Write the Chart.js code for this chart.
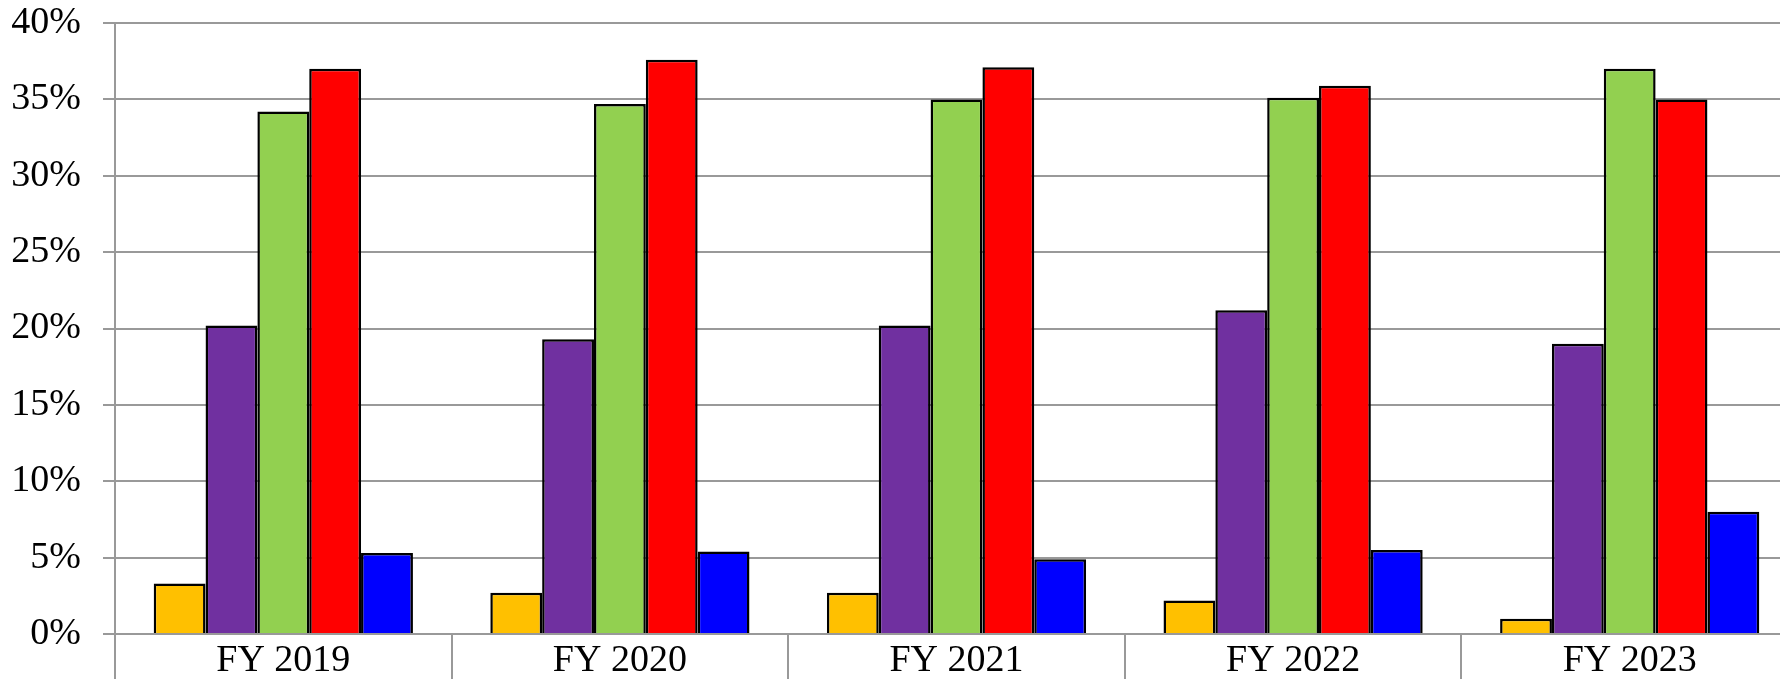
<!DOCTYPE html>
<html>
<head>
<meta charset="utf-8">
<script src="https://cdn.jsdelivr.net/npm/chart.js@4.4.0/dist/chart.umd.min.js"></script>
<style>
  html, body { margin: 0; padding: 0; background: #fff; overflow: hidden; }
  #wrap { position: relative; width: 1798px; height: 679px; }
</style>
</head>
<body>
<div id="wrap"><canvas id="c"></canvas></div>
<script>
const categories = ["FY 2019", "FY 2020", "FY 2021", "FY 2022", "FY 2023"];
const seriesYellow = [3.3, 2.7, 2.7, 2.2, 1.0];
const seriesPurple = [20.2, 19.3, 20.2, 21.2, 19.0];
const seriesGreen  = [34.2, 34.7, 35.0, 35.1, 37.0];
const seriesRed    = [37.0, 37.6, 37.1, 35.9, 35.0];
const seriesBlue   = [5.3, 5.4, 4.9, 5.5, 8.0];
const yTicks = [0, 5, 10, 15, 20, 25, 30, 35, 40];

const FONT = "'Liberation Serif', 'Times New Roman', serif";
const GRID = '#999999';

function ds(label, data, color) {
  return {
    label, data,
    backgroundColor: color,
    borderColor: '#000',
    borderWidth: 2.5,
    borderSkipped: 'bottom',
    barPercentage: 1.0,
    categoryPercentage: 0.77
  };
}

new Chart(document.getElementById('c'), {
  type: 'bar',
  data: {
    labels: categories,
    datasets: [
      ds('Series 1', seriesYellow, '#FFC000'),
      ds('Series 2', seriesPurple, '#7030A0'),
      ds('Series 3', seriesGreen, '#92D050'),
      ds('Series 4', seriesRed, '#FF0000'),
      ds('Series 5', seriesBlue, '#0000FF')
    ]
  },
  options: {
    responsive: true,
    maintainAspectRatio: false,
    animation: false,
    layout: { padding: { top: 23, right: 0, left: 0, bottom: 0 } },
    plugins: { legend: { display: false }, tooltip: { enabled: false }, title: { display: false } },
    scales: {
      x: {
        offset: true,
        grid: {
          offset: true,
          drawOnChartArea: false,
          drawTicks: true,
          tickLength: 60,
          color: GRID,
          lineWidth: 2
        },
        border: { display: true, color: GRID, width: 2 },
        ticks: {
          color: '#000',
          font: { family: FONT, size: 38 },
          padding: -56,
          maxRotation: 0
        },
        afterFit: (s) => { s.height = 45; s.paddingLeft = 0; s.paddingRight = 0; }
      },
      y: {
        min: 0,
        max: 40,
        afterBuildTicks: (s) => { s.ticks = yTicks.map(v => ({ value: v })); },
        grid: {
          color: GRID,
          lineWidth: 2,
          drawTicks: true,
          tickLength: 12
        },
        border: { display: true, color: GRID, width: 2 },
        ticks: {
          color: '#000',
          font: { family: FONT, size: 38 },
          padding: 22,
          callback: (v) => v + '%'
        },
        afterFit: (s) => { s.width = 115; s.paddingTop = 0; s.paddingBottom = 0; }
      }
    }
  }
});
</script>
</body>
</html>
